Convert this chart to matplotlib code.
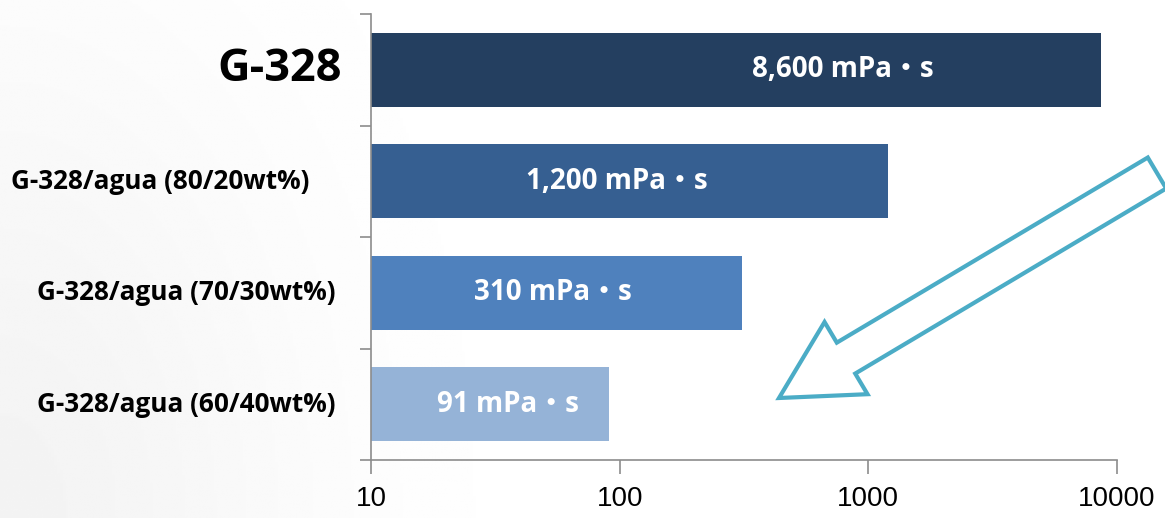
import numpy as np
import matplotlib.pyplot as plt
from matplotlib.patches import FancyArrow
from matplotlib.transforms import blended_transform_factory

# datos
categorias = ['G-328', 'G-328/agua (80/20wt%)', 'G-328/agua (70/30wt%)', 'G-328/agua (60/40wt%)']
viscosidad = [8600, 1200, 310, 91]
etiquetas = ['8,600 mPa・s', '1,200 mPa・s', '310 mPa・s', '91 mPa・s']
colores = ['#243f60', '#365f91', '#4f81bd', '#95b3d7']
xticks = [10, 100, 1000, 10000]

fig = plt.figure(figsize=(11.65, 5.18), dpi=100)

# fondo con un degradado gris muy suave a la izquierda
bg = fig.add_axes([0, 0, 1, 1], zorder=-1)
gx, gy = np.meshgrid(np.linspace(0, 1, 400), np.linspace(0, 1, 200))
d = np.sqrt((gx / 0.45) ** 2 + ((1 - gy) / 1.6) ** 2)
g = 1 - 0.045 * np.exp(-3 * d ** 2)
bg.imshow(g, cmap='gray', vmin=0, vmax=1, aspect='auto', extent=[0, 1, 0, 1])
bg.axis('off')

ax = fig.add_axes([371 / 1165, 1 - 460 / 518, 746 / 1165, 446 / 518])
ax.patch.set_alpha(0)
ypos = np.arange(len(categorias))
ax.barh(ypos, viscosidad, height=0.66, color=colores, left=0)
ax.set_xscale('log')
ax.set_xlim(10, 10000)
ax.set_ylim(len(categorias) - 0.5, -0.5)

for s in ['top', 'right']:
    ax.spines[s].set_visible(False)
for s in ['left', 'bottom']:
    ax.spines[s].set_color('#8c8c8c')
    ax.spines[s].set_linewidth(1.2)

ax.set_xticks(xticks)
ax.set_xticklabels([str(v) for v in xticks], fontsize=20, family='Liberation Sans')
ax.xaxis.set_minor_locator(plt.NullLocator())
ax.tick_params(axis='x', length=10, width=1.2, color='#8c8c8c', direction='out', pad=9)
ax.set_yticks(np.arange(len(categorias) + 1) - 0.5)
ax.set_yticklabels([])
ax.tick_params(axis='y', length=8, width=1.2, color='#8c8c8c', direction='out')

# etiquetas de categorias
tr = blended_transform_factory(ax.transAxes, ax.transData)
lab_x = [-0.039, -0.082, -0.048, -0.048]
lab_fs = [32.5, 18.8, 18.8, 18.8]
for i, c in enumerate(categorias):
    ax.text(lab_x[i], i, c, transform=tr, ha='right', va='center',
            fontsize=lab_fs[i], fontweight='bold', family='Open Sans', color='black')

# etiquetas de valores
val_x = [0.633, 0.330, 0.244, 0.184]
for i, t in enumerate(etiquetas):
    ax.text(val_x[i], i, t, transform=tr, ha='center', va='center',
            fontsize=20, fontweight='bold', color='white',
            family=['Open Sans', 'Noto Sans CJK JP'])

# flecha decorativa
ov = fig.add_axes([0, 0, 1, 1], zorder=5)
ov.set_xlim(0, 1165)
ov.set_ylim(518, 0)
ov.axis('off')
ov.patch.set_alpha(0)
ov.add_patch(FancyArrow(1157, 173, 779 - 1157, 398 - 173, width=36, head_width=84,
                        head_length=78, length_includes_head=True,
                        fc='white', ec='#4bacc6', lw=3))

fig.savefig('out.png', dpi=100)
